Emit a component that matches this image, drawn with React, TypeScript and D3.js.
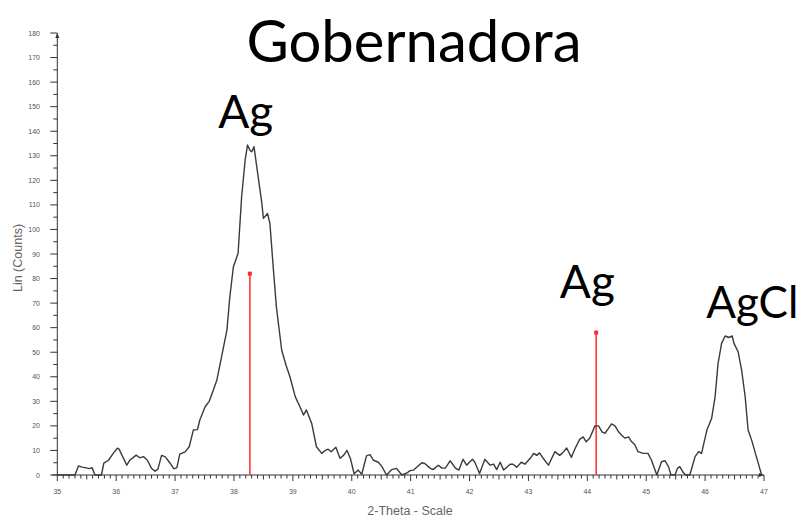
import React from "react";
import * as d3 from "d3";

// Diffraction scan: 2θ positions and intensities (counts)
const twoTheta: number[] = [
  35.0, 35.3, 35.36, 35.42, 35.47, 35.55, 35.59, 35.64, 35.75, 35.79, 35.87, 35.95, 36.02, 36.05,
  36.11, 36.18, 36.23, 36.34, 36.4, 36.46, 36.53, 36.6, 36.66, 36.71, 36.77, 36.83, 36.91, 36.98,
  37.03, 37.08, 37.17, 37.24, 37.31, 37.38, 37.42, 37.51, 37.58, 37.65, 37.71, 37.79, 37.88, 37.93,
  37.99, 38.07, 38.13, 38.19, 38.23, 38.27, 38.3, 38.34, 38.41, 38.47, 38.5, 38.57, 38.61, 38.67,
  38.72, 38.81, 38.88, 38.95, 39.04, 39.12, 39.18, 39.23, 39.32, 39.4, 39.49, 39.55, 39.6, 39.65,
  39.73, 39.8, 39.86, 39.92, 39.98, 40.04, 40.11, 40.17, 40.25, 40.31, 40.37, 40.45, 40.51, 40.59,
  40.68, 40.76, 40.85, 40.93, 40.99, 41.05, 41.19, 41.24, 41.33, 41.38, 41.47, 41.53, 41.59, 41.67,
  41.76, 41.82, 41.89, 41.95, 42.05, 42.09, 42.17, 42.26, 42.35, 42.41, 42.46, 42.52, 42.58, 42.69,
  42.74, 42.8, 42.88, 42.94, 43.03, 43.09, 43.14, 43.19, 43.25, 43.34, 43.45, 43.53, 43.58, 43.65,
  43.73, 43.79, 43.87, 43.93, 43.98, 44.04, 44.13, 44.19, 44.25, 44.3, 44.36, 44.41, 44.47, 44.53,
  44.58, 44.64, 44.7, 44.75, 44.81, 44.86, 44.95, 45.03, 45.09, 45.18, 45.26, 45.32, 45.38, 45.42,
  45.49, 45.53, 45.57, 45.63, 45.67, 45.74, 45.83, 45.89, 45.94, 46.03, 46.11, 46.17, 46.22, 46.28,
  46.34, 46.4, 46.46, 46.49, 46.56, 46.62, 46.68, 46.73, 46.79, 46.87, 46.96,
];

const counts: number[] = [
  0, 0, 3.7, 3.2, 3, 2.6, 3, 0, 0, 4.8, 6, 8.8, 10.9, 10.5,
  7.5, 4, 6, 8.1, 7, 7.5, 6, 2.7, 1.5, 2.5, 8, 7.5, 5, 2.5,
  3, 8.5, 9.4, 11.5, 18.3, 18.5, 22.4, 27.8, 30, 34.6, 38.7, 48.2, 59, 72.6,
  84.8, 90.3, 113.3, 128.3, 134.4, 132.3, 131.6, 133.7, 121.5, 111.3, 104.5, 106.5, 102.5, 83.5,
  68.5, 50.9, 45, 40, 31.9, 27.8, 24.4, 26.5, 21, 11.5, 8.8, 10, 10.5, 9.5,
  11.3, 6.8, 8, 10, 6.5, 0.5, 2, 0.3, 7.8, 8.3, 6, 5.2, 3.5, 0,
  2.2, 2.7, 0, 0.7, 1.8, 2, 5, 4.7, 2.8, 2.2, 4, 2.8, 2.8, 5.8,
  2.8, 2, 6.4, 4, 6.4, 5.2, 0.6, 6.4, 4, 4.4, 2.2, 5.2, 2, 4.4,
  4.4, 3.2, 5.2, 4.4, 6.8, 8.8, 8, 9, 6.8, 4, 9.5, 8, 9, 11,
  7.2, 10.7, 14.5, 15.5, 13.5, 15, 20, 20, 17.6, 17, 19, 20.8, 20, 17.6,
  16.3, 15, 15.5, 13.6, 12.2, 9.5, 8.8, 8.8, 6, 0, 5.4, 5.8, 3.3, 0,
  0, 2.7, 3.4, 1, 0, 0, 7.5, 9.5, 8.8, 18.3, 23, 31.9, 45.5, 53.6,
  56.6, 56, 56.6, 53.6, 50.2, 42.7, 31.9, 18.3, 14.2, 7.5, 0,
];

// Reference sticks (2θ, counts)
const refPositions: number[] = [38.27, 44.15];
const refIntensities: number[] = [82, 58];

// Phase labels
const phaseLabels: string[] = ["Ag", "Ag", "AgCl"];
const phaseLabelX: number[] = [38.2, 44.0, 46.8];
const phaseLabelY: number[] = [128, 298, 318];

const xTickValues: number[] = d3.range(35, 48, 1);
const yTickValues: number[] = d3.range(0, 181, 10);

const W = 802;
const H = 518;

export default function App() {
  const x = d3.scaleLinear().domain([35, 47]).range([57.3, 764]);
  const y = d3.scaleLinear().domain([0, 180]).range([475, 33]);

  const points = twoTheta.map((t, i) => [t, counts[i]] as [number, number]);
  const line = d3
    .line<[number, number]>()
    .x((d) => x(d[0]))
    .y((d) => y(d[1]));

  const minorX = d3.range(350, 471, 1).map((v) => v / 10);
  const minorY = d3.range(5, 180, 10);

  const axisColor = "#333";
  const labelFont = "'Liberation Sans', Arial, sans-serif";
  const bigFont = "Lato, 'Open Sans', sans-serif";

  return (
    <svg
      width={W}
      height={H}
      style={{ position: "absolute", left: 0, top: 0, background: "#fff" }}
    >
      {/* title */}
      <text
        x={414}
        y={62}
        textAnchor="middle"
        fontFamily={bigFont}
        fontSize={58}
        fill="#000"
      >
        Gobernadora
      </text>

      {/* y axis */}
      <line x1={x(35)} x2={x(35)} y1={y(0)} y2={y(180)} stroke={axisColor} strokeWidth={1} />
      <path
        d={`M${x(35) - 2},${y(180) + 5} L${x(35)},${y(180)} L${x(35) + 2},${y(180) + 5} Z`}
        fill={axisColor}
      />
      {yTickValues.map((v) => (
        <g key={`yt${v}`}>
          <line x1={x(35) - 7} x2={x(35)} y1={y(v)} y2={y(v)} stroke={axisColor} strokeWidth={1} />
          <text
            x={40}
            y={y(v) + 2.5}
            textAnchor="end"
            fontFamily={labelFont}
            fontSize={7}
            fill="#555"
          >
            {v}
          </text>
        </g>
      ))}
      {minorY.map((v) => (
        <line key={`ym${v}`} x1={x(35) - 4} x2={x(35)} y1={y(v)} y2={y(v)} stroke={axisColor} strokeWidth={1} />
      ))}
      <text
        transform={`translate(22,${258}) rotate(-90)`}
        textAnchor="middle"
        fontFamily={labelFont}
        fontSize={12.5}
        fill="#666"
      >
        Lin (Counts)
      </text>

      {/* x axis */}
      <line x1={x(35) - 5} x2={x(47)} y1={y(0)} y2={y(0)} stroke={axisColor} strokeWidth={1} />
      <path
        d={`M${x(47) - 5},${y(0) - 2} L${x(47)},${y(0)} L${x(47) - 5},${y(0) + 2} Z`}
        fill={axisColor}
      />
      {minorX.map((v, i) => {
        const len = i % 10 === 0 ? 6 : i % 5 === 0 ? 4.5 : 3.5;
        return (
          <line
            key={`xm${i}`}
            x1={x(v)}
            x2={x(v)}
            y1={y(0)}
            y2={y(0) + len}
            stroke={axisColor}
            strokeWidth={1}
          />
        );
      })}
      {xTickValues.map((v) => (
        <text
          key={`xt${v}`}
          x={x(v)}
          y={494}
          textAnchor="middle"
          fontFamily={labelFont}
          fontSize={7}
          fill="#555"
        >
          {v}
        </text>
      ))}
      <text
        x={410}
        y={515}
        textAnchor="middle"
        fontFamily={labelFont}
        fontSize={12.5}
        fill="#666"
      >
        2-Theta - Scale
      </text>

      {/* reference sticks */}
      {refPositions.map((p, i) => (
        <g key={`ref${i}`}>
          <line
            x1={x(p)}
            x2={x(p)}
            y1={y(0)}
            y2={y(refIntensities[i])}
            stroke="#ff2a2a"
            strokeWidth={1.5}
          />
          <rect
            x={x(p) - 2}
            y={y(refIntensities[i]) - 2}
            width={4}
            height={4}
            fill="#ff2a2a"
          />
        </g>
      ))}

      {/* scan */}
      <path d={line(points) ?? ""} fill="none" stroke="#3a3a3a" strokeWidth={1.4} strokeLinejoin="round" />

      {/* phase labels */}
      {phaseLabels.map((t, i) => (
        <text
          key={`pl${i}`}
          x={x(phaseLabelX[i])}
          y={phaseLabelY[i]}
          textAnchor="middle"
          fontFamily={bigFont}
          fontSize={i === 2 ? 44 : 46}
          fill="#000"
        >
          {t}
        </text>
      ))}
    </svg>
  );
}
